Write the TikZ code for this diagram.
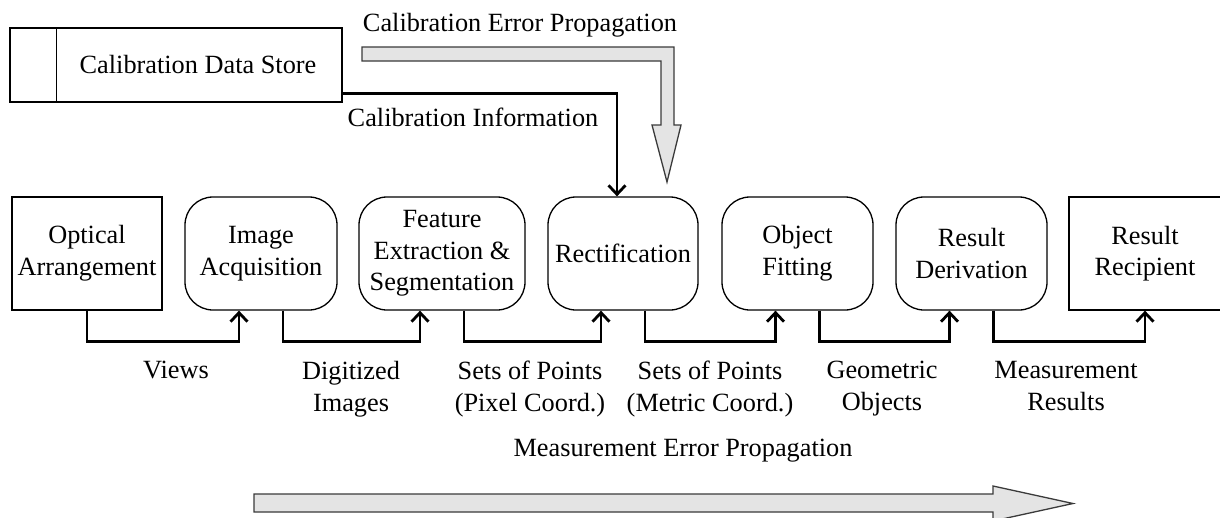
\documentclass[tikz,border=0pt]{standalone}
\usepackage{fontspec}
\setmainfont{Liberation Serif}
\usetikzlibrary{arrows.meta,calc}
\definecolor{bandfill}{HTML}{E4E4E4}
\definecolor{bandline}{HTML}{3A3A3A}
\begin{document}
\begin{tikzpicture}[x=1pt,y=-1pt,
  every node/.style={font=\fontsize{26.3pt}{31.6pt}\selectfont, inner sep=0pt},
  plainbox/.style={draw, line width=1.3pt, minimum width=#1, minimum height=113pt, align=center},
  procbox/.style={plainbox=#1, rounded corners=28pt},
  conn/.style={line width=2.8pt, -{Straight Barb[length=9pt,width=17pt]}},
  flowlabel/.style={align=center, anchor=north},
  band/.style={draw=bandline, line width=1.3pt, fill=bandfill, line join=miter}]
\useasboundingbox (0,0) rectangle (1220,517);

% calibration data store
\node[draw, line width=1.3pt, minimum width=332pt, minimum height=74pt] (store) at (176,65) {};
\draw[line width=1.3pt] ($(store.north west)+(47,0)$) -- ($(store.south west)+(47,0)$);
\node (storetext) at (198,65) {Calibration Data Store};

% processing chain
\node[plainbox=150pt] (opt) at (87,253.5) {Optical\\Arrangement};
\node[procbox=152pt] (acq) at (261,253.5) {Image\\Acquisition};
\node[procbox=166pt] (feat) at (442,253.5) {Feature\\Extraction \&\\Segmentation};
\node[procbox=150pt] (rect) at (623,253.5) {Rectification};
\node[procbox=151pt] (obj) at (797.5,253.5) {Object\\Fitting};
\node[procbox=151pt] (der) at (971.5,253.5) {Result\\Derivation};
\node[plainbox=152pt] (rcp) at (1145,253.5) {Result\\Recipient};

% data flow between the stages
\draw[conn] (opt.south) -- ++(0,31) -| ($(acq.south)+(-22,0)$);
\draw[conn] ($(acq.south)+(22,0)$) -- ++(0,31) -| ($(feat.south)+(-22,0)$);
\draw[conn] ($(feat.south)+(22,0)$) -- ++(0,31) -| ($(rect.south)+(-22,0)$);
\draw[conn] ($(rect.south)+(22,0)$) -- ++(0,31) -| ($(obj.south)+(-22,0)$);
\draw[conn] ($(obj.south)+(22,0)$) -- ++(0,31) -| ($(der.south)+(-22,0)$);
\draw[conn] ($(der.south)+(22,0)$) -- ++(0,31) -| (rcp.south);

\node[flowlabel] (l1) at (176,361) {Views};
\node[flowlabel] (l2) at (351,361) {Digitized\\Images};
\node[flowlabel] (l3) at (530,361) {Sets of Points\\(Pixel Coord.)};
\node[flowlabel] (l4) at (710,361) {Sets of Points\\(Metric Coord.)};
\node[flowlabel] (l5) at (882,361) {Geometric\\Objects};
\node[flowlabel] (l6) at (1066,361) {Measurement\\Results};

% calibration information
\draw[conn] ($(store.south east)+(0,-9)$) -| ($(rect.north)+(-6,0)$);
\node[anchor=base] (calinfo) at (473,126) {Calibration Information};

% calibration error propagation
\node[anchor=base] (calerr) at (520,31) {Calibration Error Propagation};
\draw[band] (362,47) -- (674,47) -- (674,125) -- (681,125) -- (667,182)
  -- (652,125) -- (661,125) -- (661,61) -- (362,61) -- cycle;

% measurement error propagation
\node[anchor=base] (measerr) at (683,456) {Measurement Error Propagation};
\draw[band] (254,494) -- (993,494) -- (993,486) -- (1073,503.5) -- (993,521)
  -- (993,512) -- (254,512) -- cycle;
\end{tikzpicture}
\end{document}
